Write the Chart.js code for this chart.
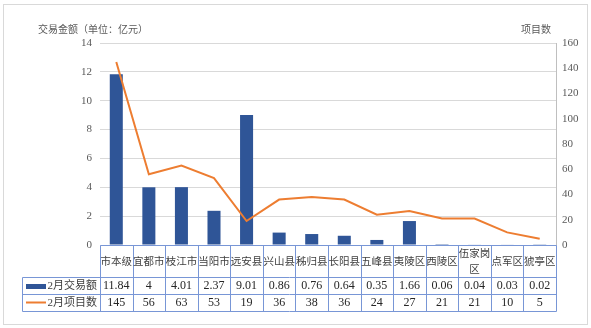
<!DOCTYPE html>
<html>
<head>
<meta charset="utf-8">
<script src="https://cdn.jsdelivr.net/npm/chart.js@4"></script>
<style>
  html, body { margin: 0; padding: 0; background: #ffffff; }
  #wrap { width: 591px; height: 328px; position: relative; }
</style>
</head>
<body>
<div id="wrap"><canvas id="c" width="591" height="328"></canvas></div>
<script>
// 各区县2月交易情况
const categories = ['市本级', '宜都市', '枝江市', '当阳市', '远安县', '兴山县', '秭归县', '长阳县', '五峰县', '夷陵区', '西陵区', '伍家岗区', '点军区', '猇亭区'];
const amountLabel = '2月交易额';
const projectLabel = '2月项目数';
const amounts = [11.84, 4, 4.01, 2.37, 9.01, 0.86, 0.76, 0.64, 0.35, 1.66, 0.06, 0.04, 0.03, 0.02];
const projects = [145, 56, 63, 53, 19, 36, 38, 36, 24, 27, 21, 21, 10, 5];
const leftTitle = '交易金额（单位：亿元）';
const rightTitle = '项目数';

const BAR_COLOR = '#2f5597';
const LINE_COLOR = '#ed7d31';
const TABLE_LINE = '#7896d6';
const CJK = "'Noto Sans CJK SC'";
const SERIF = "'Liberation Serif', 'Noto Sans CJK SC'";

// Frame, axis titles and the data table under the plot
const tablePlugin = {
  id: 'dataTable',
  beforeDraw(chart) {
    const ctx = chart.ctx;
    ctx.save();
    ctx.strokeStyle = '#d9d9d9';
    ctx.lineWidth = 1;
    ctx.strokeRect(3.5, 4.5, 584, 320);
    ctx.restore();
  },
  afterDraw(chart) {
    const ctx = chart.ctx;
    const area = chart.chartArea;
    const x = chart.scales.x;
    const half = (x.getPixelForValue(1) - x.getPixelForValue(0)) / 2;
    const top = area.bottom;
    const row1 = top + 32;
    const row2 = row1 + 17;
    const bottom = row2 + 17;
    const tableLeft = 22;

    ctx.save();
    // axis titles
    ctx.fillStyle = '#595959';
    ctx.font = "10px " + CJK;
    ctx.textBaseline = 'middle';
    ctx.textAlign = 'left';
    ctx.fillText(leftTitle, 38, 29);
    ctx.textAlign = 'right';
    ctx.fillText(rightTitle, 551, 29);

    // grid of the table
    ctx.strokeStyle = TABLE_LINE;
    ctx.lineWidth = 1;
    ctx.beginPath();
    const L = Math.round(area.left) + 0.5, R = Math.round(area.right) + 0.5;
    ctx.moveTo(L, Math.round(top) + 0.5); ctx.lineTo(R, Math.round(top) + 0.5);
    [row1, row2, bottom].forEach(y => {
      ctx.moveTo(tableLeft + 0.5, Math.round(y) + 0.5);
      ctx.lineTo(R, Math.round(y) + 0.5);
    });
    ctx.moveTo(tableLeft + 0.5, Math.round(row1) + 0.5);
    ctx.lineTo(tableLeft + 0.5, Math.round(bottom) + 0.5);
    for (let i = 0; i <= categories.length; i++) {
      const bx = i < categories.length ? x.getPixelForValue(i) - half : x.getPixelForValue(i - 1) + half;
      const px = Math.round(bx) + 0.5;
      ctx.moveTo(px, Math.round(top) + 0.5);
      ctx.lineTo(px, Math.round(bottom) + 0.5);
    }
    ctx.stroke();

    // category row
    ctx.fillStyle = '#404040';
    ctx.textAlign = 'center';
    ctx.textBaseline = 'middle';
    ctx.font = "10.5px " + CJK;
    categories.forEach((name, i) => {
      const cx = x.getPixelForValue(i);
      if (name.length > 3) {
        ctx.fillText(name.slice(0, 3), cx, top + 8);
        ctx.fillText(name.slice(3), cx, top + 24);
      } else {
        ctx.fillText(name, cx, top + 16);
      }
    });

    // values
    ctx.fillStyle = '#262626';
    ctx.font = "12px " + SERIF;
    amounts.forEach((v, i) => ctx.fillText(String(v), x.getPixelForValue(i), row1 + 9));
    projects.forEach((v, i) => ctx.fillText(String(v), x.getPixelForValue(i), row2 + 9));

    // legend keys
    ctx.fillStyle = BAR_COLOR;
    ctx.fillRect(26, row1 + 7, 20, 5);
    ctx.strokeStyle = LINE_COLOR;
    ctx.lineWidth = 2;
    ctx.beginPath();
    ctx.moveTo(26, row2 + 8.5);
    ctx.lineTo(46, row2 + 8.5);
    ctx.stroke();
    ctx.fillStyle = '#404040';
    ctx.textAlign = 'right';
    ctx.font = "11px " + SERIF;
    ctx.fillText(amountLabel, 97, row1 + 9);
    ctx.fillText(projectLabel, 97, row2 + 9);
    ctx.restore();
  }
};

new Chart(document.getElementById('c'), {
  data: {
    labels: categories,
    datasets: [
      {
        type: 'line',
        label: projectLabel,
        data: projects,
        yAxisID: 'y1',
        borderColor: LINE_COLOR,
        borderWidth: 2,
        pointRadius: 0,
        tension: 0,
        order: 1
      },
      {
        type: 'bar',
        label: amountLabel,
        data: amounts,
        yAxisID: 'y',
        backgroundColor: BAR_COLOR,
        barPercentage: 0.4,
        categoryPercentage: 1,
        order: 2
      }
    ]
  },
  options: {
    responsive: false,
    animation: false,
    events: [],
    layout: { padding: { top: 43, left: 0, right: 0, bottom: 0 } },
    plugins: { legend: { display: false }, tooltip: { enabled: false } },
    scales: {
      x: {
        type: 'category',
        offset: true,
        grid: { display: false },
        border: { display: false },
        ticks: { display: false },
        afterFit(s) { s.height = 83; }
      },
      y: {
        position: 'left',
        min: 0,
        max: 14,
        ticks: { stepSize: 2, color: '#595959', font: { family: 'Liberation Serif', size: 11 }, padding: 8 },
        grid: { color: '#d9d9d9', lineWidth: 1, drawTicks: false },
        border: { display: false },
        afterFit(s) { s.width = 100; }
      },
      y1: {
        position: 'right',
        min: 0,
        max: 160,
        ticks: { stepSize: 20, color: '#595959', font: { family: 'Liberation Serif', size: 11 }, padding: 6 },
        grid: { display: false, drawTicks: false },
        border: { display: true, color: '#bfbfbf', width: 1 },
        afterFit(s) { s.width = 35; }
      }
    }
  },
  plugins: [tablePlugin]
});
</script>
</body>
</html>
